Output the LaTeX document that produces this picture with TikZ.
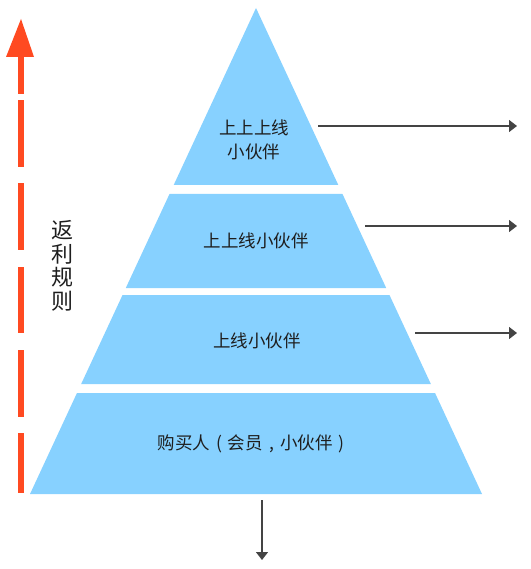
\documentclass[tikz,border=0pt]{standalone}
\usepackage{fontspec}
\newfontfamily\cjk{Noto Sans CJK SC}
\usetikzlibrary{arrows.meta}
\definecolor{pyblue}{RGB}{135,209,255}
\definecolor{redarr}{RGB}{255,74,33}
\definecolor{arrgray}{RGB}{68,68,68}
\definecolor{txt}{RGB}{30,30,30}
\newcommand{\fwp}[1]{\makebox[1em][c]{#1}}
\tikzset{
  layer/.style={fill=pyblue,draw=none},
  lbl/.style={font=\cjk\fontsize{17.5}{24}\selectfont,text=txt,align=center,inner sep=0pt},
  outarrow/.style={draw=arrgray,line width=1.4pt,-{Triangle[length=8pt,width=12pt]}},
}
\begin{document}
\begin{tikzpicture}[x=1pt,y=-1pt]
\useasboundingbox (0,0) rectangle (530,569);
\pgfmathsetmacro{\k}{226/486}
% layers: (ytop, ybottom)
\foreach \yt/\yb in {8/185,194/288,295/384,393/494}{
  \pgfmathsetmacro{\xtl}{256-\k*(\yt-8)}
  \pgfmathsetmacro{\xtr}{256+\k*(\yt-8)}
  \pgfmathsetmacro{\xbl}{256-\k*(\yb-8)}
  \pgfmathsetmacro{\xbr}{256+\k*(\yb-8)}
  \fill[layer] (\xtl,\yt) -- (\xtr,\yt) -- (\xbr,\yb) -- (\xbl,\yb) -- cycle;
}
% labels
\node[lbl] (l1) at (254,140) {上上上线\\小伙伴};
\node[lbl] (l2) at (256,241) {上上线小伙伴};
\node[lbl] (l3) at (257,341) {上线小伙伴};
\node[lbl] (l4) at (254,444) {购买人\fwp{(}会员\fwp{,}小伙伴\fwp{)}};
% right arrows
\coordinate (a1s) at (318,126); \coordinate (a1e) at (517,126);
\coordinate (a2s) at (365,226); \coordinate (a2e) at (517,226);
\coordinate (a3s) at (415,333); \coordinate (a3e) at (517,333);
\coordinate (bs) at (262,500); \coordinate (be) at (262,560);
\draw[outarrow] (a1s) -- (a1e);
\draw[outarrow] (a2s) -- (a2e);
\draw[outarrow] (a3s) -- (a3e);
\draw[outarrow] (bs) -- (be);
% red dashed arrow
\fill[redarr] (21,19) -- (34,57) -- (6,57) -- cycle;
\foreach \ya/\yb in {56/94,100/167,183/250,267/333,350/417,433/493}{
  \fill[redarr] (18,\ya) rectangle (24,\yb);
}
% vertical text
\node[font=\cjk\fontsize{22}{23.5}\selectfont,text=txt,align=center,inner sep=0pt] (rule) at (62,266) {返\\利\\规\\则};
\end{tikzpicture}
\end{document}
